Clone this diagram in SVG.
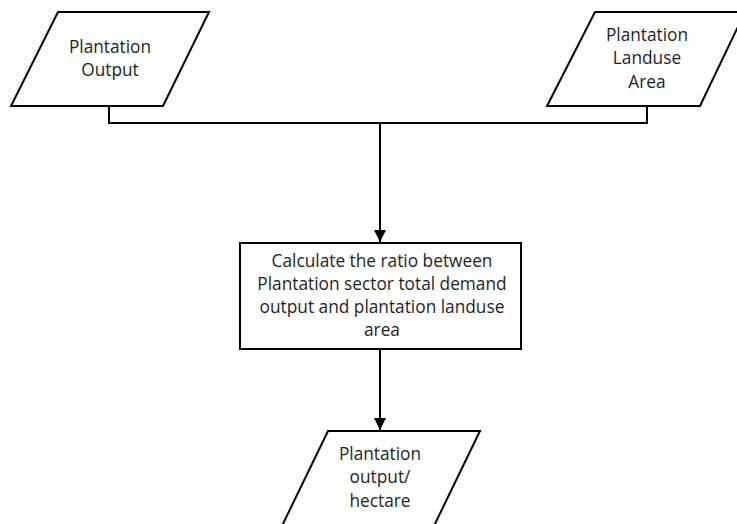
<svg xmlns="http://www.w3.org/2000/svg" width="737" height="524" viewBox="0 0 737 524">
  <style>
    .shape { fill: #ffffff; stroke: #000000; stroke-width: 2; }
    .wire { fill: none; stroke: #000000; stroke-width: 2; }
    .label { font-family: "Open Sans", "Liberation Sans", Arial, sans-serif; font-size: 17.3px; fill: #1f1f1f; text-anchor: middle; }
  </style>
  <defs>
    <marker id="arrow" viewBox="0 0 10 10" refX="10" refY="5" markerWidth="6" markerHeight="6" markerUnits="strokeWidth" orient="auto">
      <path d="M0,0 L10,5 L0,10 Z" fill="#000000"/>
    </marker>
  </defs>
  <rect width="737" height="524" fill="#ffffff"/>

  <g id="connectors">
    <path class="wire" d="M109,106 V123 H647 V106"/>
    <path class="wire" d="M380,123 V242" marker-end="url(#arrow)"/>
    <path class="wire" d="M380,349 V430" marker-end="url(#arrow)"/>
  </g>

  <g id="plantation-output">
    <polygon class="shape" points="58,12 209,12 163,106 11,106"/>
    <text class="label" x="110" y="53">Plantation</text>
    <text class="label" x="110" y="76">Output</text>
  </g>

  <g id="plantation-landuse-area">
    <polygon class="shape" points="595,12 745,12 700,106 547,106"/>
    <text class="label" x="647" y="41">Plantation</text>
    <text class="label" x="647" y="64">Landuse</text>
    <text class="label" x="647" y="88">Area</text>
  </g>

  <g id="calculate-ratio">
    <rect class="shape" x="240" y="243" width="281" height="106"/>
    <text class="label" x="382" y="267">Calculate the ratio between</text>
    <text class="label" x="382" y="290">Plantation sector total demand</text>
    <text class="label" x="382" y="313">output and plantation landuse</text>
    <text class="label" x="382" y="336">area</text>
  </g>

  <g id="plantation-output-per-hectare">
    <polygon class="shape" points="328,431 480,431 432,530 280,530"/>
    <text class="label" x="380" y="460">Plantation</text>
    <text class="label" x="380" y="483">output/</text>
    <text class="label" x="380" y="507">hectare</text>
  </g>
</svg>
